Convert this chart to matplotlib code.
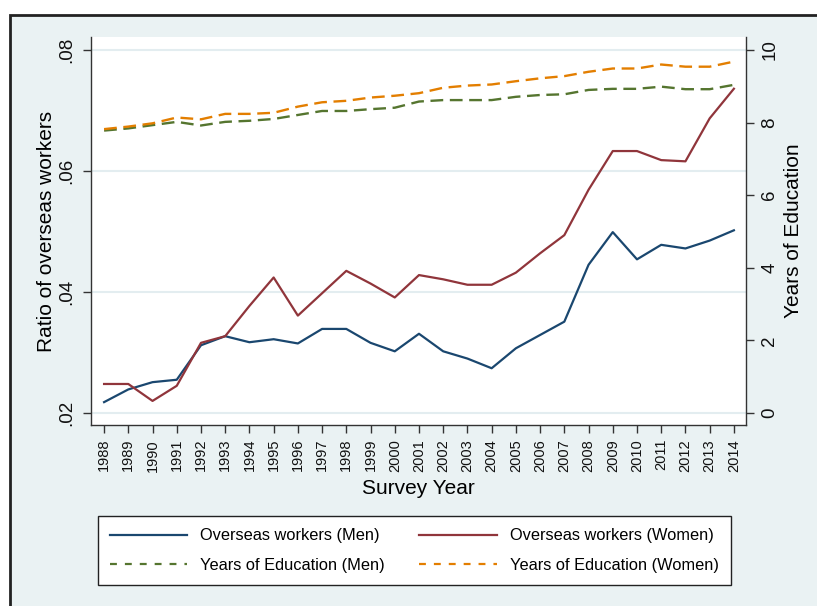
import matplotlib
matplotlib.use('Agg')
import matplotlib.pyplot as plt
import matplotlib.patches as mpatches
from matplotlib.lines import Line2D
import numpy as np

plt.rcParams['font.family'] = ['Liberation Sans', 'DejaVu Sans']

# Stata s2color palette
COLORS = {
    'navy': '#1a476f',
    'maroon': '#90353b',
    'forest': '#55752f',
    'orange': '#e37e00',
    'bg': '#eaf2f3',
    'axis': '#333333',
}

years = np.arange(1988, 2015)

overseas_men = [0.0218, 0.0239, 0.0251, 0.0255, 0.0312, 0.0327, 0.0317, 0.0322, 0.0315,
                0.0339, 0.0339, 0.0316, 0.0302, 0.0331, 0.0302, 0.0290, 0.0274, 0.0307,
                0.0329, 0.0351, 0.0445, 0.0499, 0.0454, 0.0478, 0.0472, 0.0485, 0.0502]
overseas_women = [0.0248, 0.0248, 0.0220, 0.0245, 0.0316, 0.0327, 0.0377, 0.0424, 0.0361,
                  0.0398, 0.0435, 0.0414, 0.0391, 0.0428, 0.0421, 0.0412, 0.0412, 0.0432,
                  0.0464, 0.0494, 0.0569, 0.0633, 0.0633, 0.0618, 0.0616, 0.0687, 0.0736]
edu_men = [7.78, 7.84, 7.93, 8.02, 7.92, 8.02, 8.05, 8.10, 8.21, 8.32, 8.32, 8.37, 8.41,
           8.58, 8.62, 8.62, 8.62, 8.71, 8.76, 8.78, 8.90, 8.93, 8.93, 8.99, 8.92, 8.92, 9.04]
edu_women = [7.82, 7.89, 7.98, 8.14, 8.09, 8.24, 8.24, 8.27, 8.44, 8.56, 8.60, 8.69, 8.74,
             8.81, 8.96, 9.02, 9.05, 9.14, 9.22, 9.28, 9.40, 9.49, 9.49, 9.60, 9.54, 9.54, 9.68]

left_ticks = [0.02, 0.04, 0.06, 0.08]
left_labels = ['.02', '.04', '.06', '.08']
right_ticks = [0, 2, 4, 6, 8, 10]

labels = ['Overseas workers (Men)', 'Overseas workers (Women)',
          'Years of Education (Men)', 'Years of Education (Women)']

W, H = 817, 606
fig = plt.figure(figsize=(W / 100, H / 100), dpi=100, facecolor='white')

# outer graph region (cropped frame)
frame = mpatches.Rectangle((10 / W, -0.1), 1.2, 1.1 - 15 / H, transform=fig.transFigure,
                           facecolor=COLORS['bg'], edgecolor='#222222', linewidth=2, zorder=-5)
fig.patches.append(frame)

ax = fig.add_axes([91 / W, 1 - 425 / H, (746 - 91) / W, (425 - 37) / H])
ax.set_facecolor('white')
ax2 = ax.twinx()

dash = (0, (5.4, 2.8))
ax.plot(years, overseas_men, color=COLORS['navy'], lw=1.6)
ax.plot(years, overseas_women, color=COLORS['maroon'], lw=1.6)
ax2.plot(years, edu_men, color=COLORS['forest'], lw=1.7, ls=dash)
ax2.plot(years, edu_women, color=COLORS['orange'], lw=1.7, ls=dash)

for y in left_ticks:
    ax.axhline(y, color='#e3edf0', lw=1.5, zorder=0)

ax.set_xlim(1987.46, 2014.5)
ax.set_ylim(0.01802, 0.08215)
ax2.set_ylim(-0.331, 10.358)

ax.set_xticks(years)
ax.set_xticklabels([str(y) for y in years], rotation=90, fontsize=10.5)
ax.set_yticks(left_ticks)
ax.set_yticklabels(left_labels, rotation=90, va='center', fontsize=13.5)
ax2.set_yticks(right_ticks)
ax2.set_yticklabels([str(t) for t in right_ticks], rotation=90, va='center', fontsize=13.5)

for a in (ax, ax2):
    a.tick_params(length=6, width=1, color=COLORS['axis'], labelcolor='#111111')
    a.spines['top'].set_visible(False)
    for s in a.spines.values():
        s.set_color(COLORS['axis'])
        s.set_linewidth(1)
ax.tick_params(axis='y', pad=5)
ax.tick_params(axis='x', pad=4)
ax2.tick_params(axis='y', pad=5)
ax2.spines['left'].set_visible(False)
ax2.spines['bottom'].set_visible(False)
ax.spines['right'].set_visible(False)

ax.set_ylabel('Ratio of overseas workers', fontsize=15, labelpad=2)
ax2.set_ylabel('Years of Education', fontsize=15, labelpad=4)
ax.set_xlabel('Survey Year', fontsize=15, labelpad=5)

# legend keys (shorter dashes than in the plot, like Stata draws them)
leg_dash = (0, (3.1, 3.6))
handles = [Line2D([], [], color=COLORS['navy'], lw=1.6),
           Line2D([], [], color=COLORS['maroon'], lw=1.6),
           Line2D([], [], color=COLORS['forest'], lw=1.6, ls=leg_dash),
           Line2D([], [], color=COLORS['orange'], lw=1.6, ls=leg_dash)]
order = [0, 2, 1, 3]  # column-major fill: men/women on the same row
leg = fig.legend([handles[i] for i in order], [labels[i] for i in order], ncol=2,
                 loc='upper left', bbox_to_anchor=(98 / W, 1 - 516 / H),
                 borderaxespad=0, fontsize=11.8, frameon=True, fancybox=False,
                 edgecolor='#222222', facecolor='white', framealpha=1, handlelength=4.7,
                 handletextpad=0.8, labelspacing=0.9, borderpad=0.75, columnspacing=2.1)
leg.get_frame().set_linewidth(1)

fig.savefig('out.png', dpi=100, facecolor='white')
